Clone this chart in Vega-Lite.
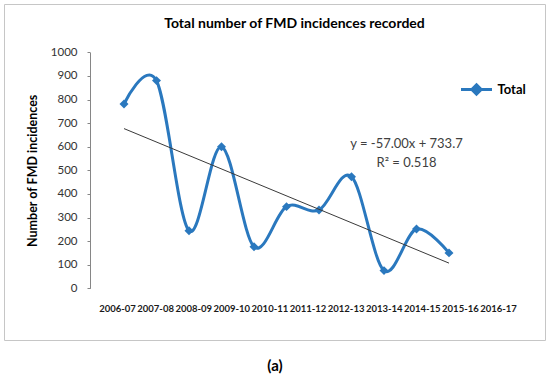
{
  "$schema": "https://vega.github.io/schema/vega-lite/v6.json",
  "width": 541,
  "height": 336,
  "autosize": {"type": "none"},
  "padding": {"left": 4, "top": 4, "right": 5, "bottom": 43},
  "background": "white",
  "config": {"view": {"stroke": "#c6c6c6", "strokeWidth": 1}, "font": "Lato"},
  "title": {
    "text": "Total number of FMD incidences recorded",
    "font": "Lato",
    "fontSize": 14,
    "fontWeight": "bold",
    "color": "#000000",
    "anchor": "middle",
    "dx": 20,
    "offset": -34,
    "baseline": "middle",
    "frame": "group"
  },
  "datasets": {
    "main": [
      {"year": "2006-07", "value": 781, "series": "Total"},
      {"year": "2007-08", "value": 880, "series": "Total"},
      {"year": "2008-09", "value": 244, "series": "Total"},
      {"year": "2009-10", "value": 600, "series": "Total"},
      {"year": "2010-11", "value": 176, "series": "Total"},
      {"year": "2011-12", "value": 346, "series": "Total"},
      {"year": "2012-13", "value": 332, "series": "Total"},
      {"year": "2013-14", "value": 473, "series": "Total"},
      {"year": "2014-15", "value": 75, "series": "Total"},
      {"year": "2015-16", "value": 251, "series": "Total"},
      {"year": "2016-17", "value": 150, "series": "Total"}
    ],
    "trend": [
      {"year": "2006-07", "value": 676.7},
      {"year": "2016-17", "value": 106.7}
    ],
    "notes": [
      {"year": "2015-16", "value": 611, "label": "y = -57.00x + 733.7"},
      {"year": "2015-16", "value": 532, "label": "R² = 0.518"}
    ],
    "caption": [
      {"year": "2010-11", "value": -329, "label": "(a)"}
    ]
  },
  "encoding": {
    "y": {
      "field": "value",
      "type": "quantitative",
      "scale": {"domain": [0, 1000], "range": [284.3, 48.3], "nice": false, "zero": false},
      "axis": {
        "orient": "left",
        "offset": -86,
        "grid": false,
        "format": "d",
        "values": [0, 100, 200, 300, 400, 500, 600, 700, 800, 900, 1000],
        "domainColor": "#868686",
        "tickColor": "#868686",
        "tickSize": 3,
        "labelFont": "Lato",
        "labelFontSize": 11.5,
        "labelColor": "#333333",
        "labelPadding": 10,
        "title": "Number of FMD incidences",
        "titleFont": "Lato",
        "titleFontSize": 12.5,
        "titleFontWeight": "bold",
        "titleColor": "#000000",
        "titlePadding": 11
      }
    }
  },
  "layer": [
    {
      "encoding": {
        "x": {
          "field": "year",
          "type": "ordinal",
          "sort": null,
          "scale": {
            "type": "point",
            "domain": ["2006-07", "2007-08", "2008-09", "2009-10", "2010-11", "2011-12", "2012-13", "2013-14", "2014-15", "2015-16", "2016-17"],
            "range": [120, 445],
            "padding": 0
          },
          "axis": null
        }
      },
      "layer": [
        {
          "data": {"name": "main"},
          "mark": {"type": "line", "interpolate": "cardinal", "strokeWidth": 3},
          "encoding": {
            "color": {
              "field": "series",
              "type": "nominal",
              "scale": {"domain": ["Total"], "range": ["#2a78be"]},
              "legend": {
                "orient": "none",
                "legendX": 455.5,
                "legendY": 68.5,
                "title": null,
                "padding": 0,
                "symbolType": "M-1,0L1,0M0,-0.3L0.3,0L0,0.3L-0.3,0Z",
                "symbolSize": 961,
                "symbolStrokeWidth": 3,
                "symbolFillColor": "#2a78be",
                "symbolStrokeColor": "#2a78be",
                "symbolOpacity": 1,
                "labelFont": "Lato",
                "labelFontSize": 13,
                "labelFontWeight": "bold",
                "labelColor": "#000000",
                "labelOffset": 4
              }
            }
          }
        },
        {
          "data": {"name": "main"},
          "mark": {"type": "point", "shape": "diamond", "filled": true, "size": 80, "opacity": 1},
          "encoding": {
            "color": {
              "field": "series",
              "type": "nominal",
              "scale": {"domain": ["Total"], "range": ["#2a78be"]},
              "legend": {
                "orient": "none",
                "legendX": 455.5,
                "legendY": 68.5,
                "title": null,
                "padding": 0,
                "symbolType": "M-1,0L1,0M0,-0.3L0.3,0L0,0.3L-0.3,0Z",
                "symbolSize": 961,
                "symbolStrokeWidth": 3,
                "symbolFillColor": "#2a78be",
                "symbolStrokeColor": "#2a78be",
                "symbolOpacity": 1,
                "labelFont": "Lato",
                "labelFontSize": 13,
                "labelFontWeight": "bold",
                "labelColor": "#000000",
                "labelOffset": 4
              }
            }
          }
        },
        {
          "data": {"name": "trend"},
          "mark": {"type": "line", "color": "#3a3a3a", "strokeWidth": 1},
          "encoding": {}
        },
        {
          "data": {"name": "notes"},
          "mark": {"type": "text", "dx": -10, "font": "Lato", "fontSize": 13, "color": "#404040", "align": "center", "baseline": "middle"},
          "encoding": {"text": {"field": "label"}}
        }
      ]
    },
    {
      "data": {"name": "caption"},
      "mark": {"type": "text", "dx": 5.6, "font": "Lato", "fontSize": 15, "fontWeight": "bold", "color": "#000000", "align": "center", "baseline": "middle"},
      "encoding": {
        "x": {
          "field": "year",
          "type": "ordinal",
          "sort": null,
          "scale": {
            "type": "point",
            "domain": ["2006-07", "2007-08", "2008-09", "2009-10", "2010-11", "2011-12", "2012-13", "2013-14", "2014-15", "2015-16", "2016-17"],
            "range": [113, 494],
            "padding": 0
          },
          "axis": {
            "orient": "bottom",
            "offset": -37,
            "domain": false,
            "ticks": false,
            "tickSize": 0,
            "labelPadding": 0,
            "labelFont": "Lato",
            "labelFontSize": 9.5,
            "labelFontWeight": "bold",
            "labelColor": "#1a1a1a",
            "labelAngle": 0,
            "labelOverlap": false,
            "title": null
          }
        },
        "text": {"field": "label"}
      }
    }
  ],
  "resolve": {"scale": {"x": "independent"}, "axis": {"x": "independent"}}
}
